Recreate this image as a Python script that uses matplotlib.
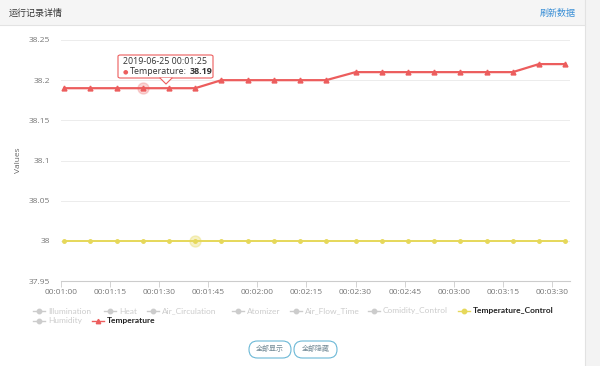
import matplotlib
matplotlib.use("Agg")
import matplotlib.pyplot as plt
from matplotlib.lines import Line2D
from matplotlib.patches import Rectangle, FancyBboxPatch, Polygon

# ---------------- data ----------------
times = ["00:01:01", "00:01:09", "00:01:17", "00:01:25", "00:01:33", "00:01:41",
         "00:01:49", "00:01:57", "00:02:05", "00:02:13", "00:02:21", "00:02:30",
         "00:02:38", "00:02:46", "00:02:54", "00:03:02", "00:03:10", "00:03:18",
         "00:03:26", "00:03:34"]
temperature = [38.19, 38.19, 38.19, 38.19, 38.19, 38.19,
               38.20, 38.20, 38.20, 38.20, 38.20,
               38.21, 38.21, 38.21, 38.21, 38.21, 38.21, 38.21,
               38.22, 38.22]
temperature_control = [38.0] * 20
xtick_labels = ["00:01:00", "00:01:15", "00:01:30", "00:01:45", "00:02:00", "00:02:15",
                "00:02:30", "00:02:45", "00:03:00", "00:03:15", "00:03:30"]
ytick_values = [37.95, 38.0, 38.05, 38.1, 38.15, 38.2, 38.25]
ytick_labels = ["37.95", "38", "38.05", "38.1", "38.15", "38.2", "38.25"]
legend_row1 = ["Illumination", "Heat", "Air_Circulation", "Atomizer", "Air_Flow_Time",
               "Comidity_Control", "Temperature_Control"]
legend_row2 = ["Humidity", "Temperature"]
active_series = {"Temperature_Control": "#e6d85a", "Temperature": "#ec5d5d"}


def to_sec(s):
    h, m, sec = s.split(":")
    return int(h) * 3600 + int(m) * 60 + int(sec)


xs = [to_sec(t) for t in times]
xtick_pos = [to_sec(t) for t in xtick_labels]

W, H = 600, 366
fig = plt.figure(figsize=(W / 100, H / 100), dpi=100)
fig.patch.set_facecolor("white")

CJK = ["Noto Sans CJK SC", "DejaVu Sans"]


def fx(px):
    return px / W


def fy(py):
    return 1 - py / H


# background panels
fig.add_artist(Rectangle((fx(585), 0), fx(15), 1, transform=fig.transFigure,
                         facecolor="#f3f3f3", edgecolor="none", zorder=0))
fig.add_artist(Line2D([fx(585), fx(585)], [0, 1], transform=fig.transFigure,
                      color="#e2e2e2", lw=0.8, zorder=1))
fig.add_artist(Rectangle((0, fy(25)), fx(585), fy(0) - fy(25), transform=fig.transFigure,
                         facecolor="#f5f5f5", edgecolor="none", zorder=0))
fig.add_artist(Line2D([0, fx(585)], [fy(25), fy(25)], transform=fig.transFigure,
                      color="#e3e3e3", lw=0.8, zorder=1))
fig.text(fx(9), fy(13), "运行记录详情", family=CJK, fontsize=6.5, color="#333333",
         va="center", ha="left")
fig.text(fx(576), fy(13), "刷新数据", family=CJK, fontsize=6.5, color="#3a8fd6",
         va="center", ha="right")

# ---------------- axes ----------------
ax = fig.add_axes([fx(61), fy(281), fx(570) - fx(61), fy(40) - fy(281)])
ax.set_xlim(xtick_pos[0], 214 + 1.5)
ax.set_ylim(37.95, 38.25)
for s in ["top", "right", "left"]:
    ax.spines[s].set_visible(False)
ax.spines["bottom"].set_color("#cccccc")
ax.spines["bottom"].set_linewidth(0.8)
ax.set_yticks(ytick_values)
ax.set_yticklabels(ytick_labels)
ax.set_xticks(xtick_pos)
ax.set_xticklabels(xtick_labels)
ax.tick_params(axis="y", length=0, pad=8, labelsize=6, labelcolor="#777777")
ax.tick_params(axis="x", length=4, width=0.6, color="#cccccc", pad=2,
               labelsize=6, labelcolor="#777777")
for lab in ax.get_xticklabels() + ax.get_yticklabels():
    lab.set_family("Open Sans")
ax.grid(axis="y", color="#ececec", lw=0.7)
ax.set_axisbelow(True)
ax.set_ylabel("Values", fontsize=6, color="#666666", family="Open Sans", labelpad=4)
ax.yaxis.set_label_coords(-(61 - 22) / (570 - 61), 0.5)

red = active_series["Temperature"]
yel = active_series["Temperature_Control"]
ax.plot(xs, temperature_control, color=yel, lw=1.4, marker="o", ms=2.5, zorder=3)
ax.plot(xs, temperature, color=red, lw=1.6, marker="^", ms=3.5, zorder=4)
# hover halos
ax.plot([xs[3]], [temperature[3]], "o", ms=8, color=red, alpha=0.25, zorder=3)
ax.plot([xs[5]], [temperature_control[5]], "o", ms=8, color=yel, alpha=0.35, zorder=2)

# ---------------- tooltip ----------------
bx0, by0, bx1, by1 = 118, 55, 213, 78
fig.add_artist(FancyBboxPatch((fx(bx0), fy(by1)), fx(bx1 - bx0), fy(by0) - fy(by1),
                              boxstyle="round,pad=0,rounding_size=0.004",
                              transform=fig.transFigure, facecolor="white",
                              edgecolor=red, lw=0.8, zorder=10))
fig.add_artist(Polygon([[fx(160), fy(by1)], [fx(172), fy(by1)], [fx(166), fy(84)]],
                       closed=True, transform=fig.transFigure, facecolor="white",
                       edgecolor="none", zorder=11))
fig.add_artist(Line2D([fx(160), fx(166), fx(172)], [fy(by1), fy(84), fy(by1)],
                      transform=fig.transFigure, color=red, lw=0.8, zorder=12))
fig.text(fx(123), fy(62), "2019-06-25 00:01:25", fontsize=6.4, color="#333333",
         family="Open Sans", va="center", zorder=13)
fig.text(fx(123), fy(72), "●", fontsize=4.5, color=red, va="center", zorder=13)
t_lab = fig.text(fx(130), fy(72), "Temperature:", fontsize=6.4, color="#333333",
                 family="Open Sans", va="center", zorder=13)
renderer = fig.canvas.get_renderer()
bb = t_lab.get_window_extent(renderer=renderer)
fig.text(bb.x1 / W + fx(3), fy(72), "38.19", fontsize=6.4, color="#333333",
         family="Open Sans", weight="bold", va="center", zorder=13)

# ---------------- legend ----------------
row1_x = [33, 104, 147, 232, 290, 368, 458]
row2_x = [33, 92]
gray = "#cccccc"


def legend_item(x, y, name):
    col = active_series.get(name, gray)
    active = name in active_series
    mk = "^" if name == "Temperature" else "o"
    fig.add_artist(Line2D([fx(x), fx(x + 12)], [fy(y), fy(y)], transform=fig.transFigure,
                          color=col, lw=1.0, zorder=5))
    fig.add_artist(Line2D([fx(x + 6)], [fy(y)], transform=fig.transFigure,
                          color=col, marker=mk, ms=3.2, lw=0, zorder=6))
    fig.text(fx(x + 15), fy(y), name, fontsize=6, va="center", ha="left",
             family="Lato", weight="bold" if active else "normal",
             color="#222222" if active else gray)


for x, n in zip(row1_x, legend_row1):
    legend_item(x, 311, n)
for x, n in zip(row2_x, legend_row2):
    legend_item(x, 321, n)

# ---------------- buttons ----------------
for (x0, x1), label in zip([(249, 291), (294, 337)], ["全部显示", "全部隐藏"]):
    fig.add_artist(FancyBboxPatch((fx(x0), fy(358)), fx(x1 - x0), fy(341) - fy(358),
                                  boxstyle="round,pad=0,rounding_size=0.014",
                                  transform=fig.transFigure, facecolor="white",
                                  edgecolor="#6bb8d6", lw=0.8, zorder=5,
                                  mutation_aspect=1.64))
    fig.text(fx((x0 + x1) / 2), fy(349.5), label, family=CJK, fontsize=5,
             color="#6f8793", ha="center", va="center", zorder=6)

fig.savefig("out.png", dpi=100)
